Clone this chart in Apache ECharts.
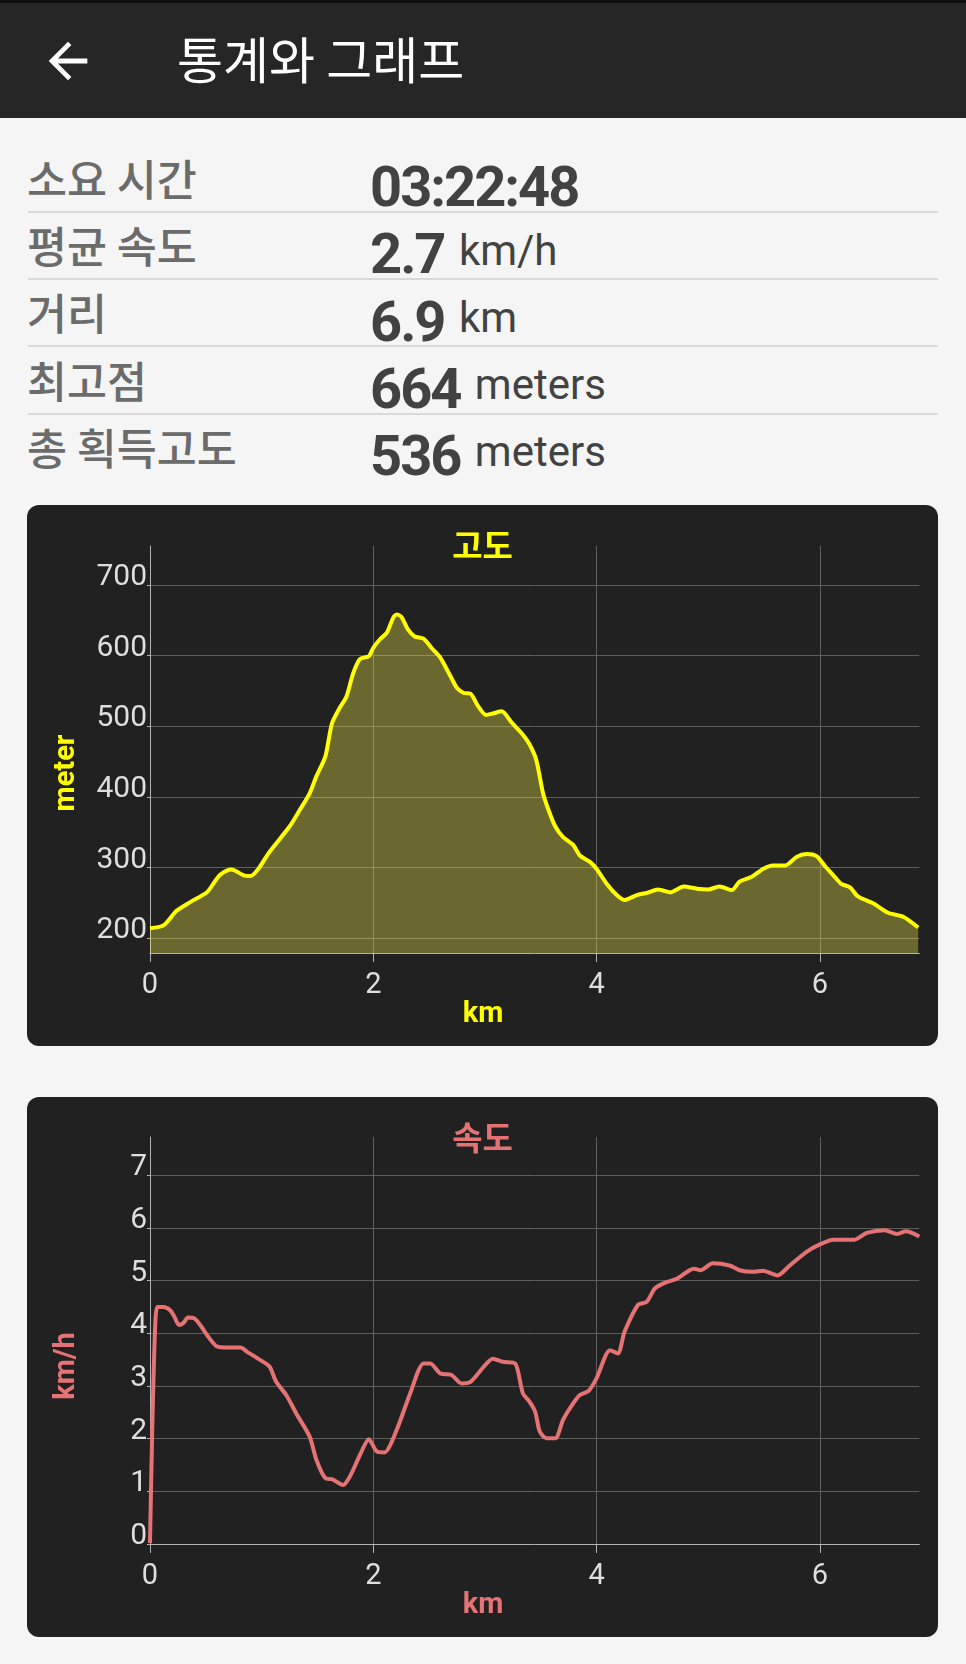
<!DOCTYPE html>
<html><head><meta charset="utf-8">
<script src="https://cdn.jsdelivr.net/npm/echarts@6.0.0/dist/echarts.min.js"></script>
<style>
html,body{margin:0;padding:0;background:#f5f5f5;width:966px;height:1664px;overflow:hidden;}
body{position:relative;}
#topstrip{position:absolute;left:0;top:0;width:966px;height:3px;background:#0e0e0e;}
#bar{position:absolute;left:0;top:3px;width:966px;height:115px;background:#262626;}
#arrow{position:absolute;left:39px;top:32px;width:58px;height:58px;}
#title{position:absolute;left:177px;top:32px;font:400 50px 'Noto Sans CJK KR',sans-serif;line-height:1;color:#fff;white-space:nowrap;}
.lab{position:absolute;left:27px;font:500 43.5px 'Noto Sans CJK KR',sans-serif;line-height:1;color:#6b6b6b;white-space:nowrap;}
.val{position:absolute;left:370px;line-height:1;color:#424242;white-space:nowrap;font-family:Roboto,sans-serif;font-size:42px;}
.val b{font-weight:700;font-size:56px;letter-spacing:-2px;}
.val span{font-weight:400;font-size:42px;margin-left:4px;position:relative;top:-8.5px;}
.sep{position:absolute;left:28px;width:910px;height:2px;background:#d9d9d9;}
.card{position:absolute;left:27px;width:911px;background:#212121;border-radius:12px;overflow:hidden;}
.chart{position:absolute;left:0;top:0;width:911px;}
</style></head><body>
<div id="topstrip"></div>
<div id="bar"></div>
<svg id="arrow" viewBox="0 0 24 24"><path fill="#ffffff" d="M20 11H7.83l5.59-5.59L12 4l-8 8 8 8 1.41-1.41L7.83 13H20v-2z"/></svg>
<div id="title">통계와 그래프</div>
<div id="stats"></div>
<div class="card" style="top:505px;height:541px;"><div id="c1" class="chart" style="height:541px;"></div></div>
<div class="card" style="top:1097px;height:540px;"><div id="c2" class="chart" style="height:540px;"></div></div>
<script>
// ---- stats table ----
const statLabels = ['소요 시간', '평균 속도', '거리', '최고점', '총 획득고도'];
const statValues = ['03:22:48', '2.7', '6.9', '664', '536'];
const statUnits  = ['', 'km/h', 'km', 'meters', 'meters'];

// ---- elevation profile (km, meter) ----
const elevKm = [0, 0.12, 0.24, 0.36, 0.51, 0.58, 0.63, 0.73, 0.84, 0.90, 0.97, 1.07, 1.25, 1.34, 1.43, 1.49, 1.57, 1.63, 1.70, 1.76, 1.82, 1.88, 1.96, 2.00, 2.06, 2.12, 2.18, 2.21, 2.25, 2.31, 2.37, 2.45, 2.52, 2.60, 2.69, 2.75, 2.81, 2.87, 2.94, 3.01, 3.07, 3.15, 3.24, 3.34, 3.40, 3.46, 3.52, 3.57, 3.63, 3.70, 3.79, 3.85, 3.94, 4.00, 4.09, 4.18, 4.25, 4.36, 4.45, 4.55, 4.66, 4.78, 4.90, 5.00, 5.10, 5.21, 5.28, 5.39, 5.49, 5.58, 5.69, 5.79, 5.88, 5.97, 6.05, 6.12, 6.19, 6.27, 6.34, 6.48, 6.61, 6.75, 6.88];
const elevM  = [214, 218, 239, 251, 265, 280, 290, 297, 289, 288, 298, 322, 358, 381, 405, 429, 457, 504, 526, 542, 575, 595, 599, 611, 623, 632, 654, 658, 655, 637, 627, 624, 611, 597, 571, 554, 547, 546, 528, 516, 518, 521, 505, 488, 474, 452, 405, 381, 358, 343, 332, 317, 308, 298, 277, 261, 254, 261, 264, 269, 265, 273, 270, 269, 273, 268, 280, 287, 298, 303, 303, 315, 319, 316, 301, 289, 277, 272, 259, 249, 236, 230, 215];

// ---- speed profile (km, km/h) ----
const speedKm  = [0, 0.02, 0.045, 0.066, 0.12, 0.18, 0.22, 0.26, 0.30, 0.34, 0.40, 0.46, 0.52, 0.60, 0.69, 0.81, 0.87, 0.96, 1.07, 1.13, 1.22, 1.31, 1.43, 1.49, 1.57, 1.63, 1.73, 1.79, 1.88, 1.96, 2.03, 2.10, 2.21, 2.33, 2.45, 2.51, 2.60, 2.70, 2.79, 2.87, 2.99, 3.07, 3.16, 3.27, 3.34, 3.40, 3.45, 3.49, 3.55, 3.63, 3.70, 3.79, 3.85, 3.93, 4.00, 4.12, 4.19, 4.25, 4.37, 4.45, 4.52, 4.60, 4.72, 4.87, 4.93, 5.04, 5.19, 5.28, 5.40, 5.49, 5.62, 5.73, 5.88, 6.00, 6.12, 6.31, 6.42, 6.58, 6.69, 6.77, 6.89];
const speedKmh = [0.02, 2.17, 4.06, 4.50, 4.50, 4.44, 4.31, 4.16, 4.20, 4.30, 4.28, 4.13, 3.94, 3.75, 3.73, 3.73, 3.65, 3.53, 3.37, 3.08, 2.83, 2.48, 2.04, 1.60, 1.25, 1.23, 1.12, 1.28, 1.69, 1.99, 1.76, 1.74, 2.17, 2.86, 3.43, 3.43, 3.24, 3.21, 3.05, 3.08, 3.37, 3.52, 3.46, 3.43, 2.86, 2.70, 2.51, 2.14, 2.01, 2.01, 2.36, 2.67, 2.83, 2.91, 3.15, 3.68, 3.62, 4.03, 4.54, 4.60, 4.85, 4.95, 5.04, 5.23, 5.20, 5.33, 5.29, 5.20, 5.17, 5.19, 5.10, 5.29, 5.55, 5.69, 5.78, 5.78, 5.91, 5.96, 5.89, 5.94, 5.84];

// axis ranges
const xRange = [0, 6.89];
const elevRange = [179, 755];
const speedRange = [0, 7.73];

// build stats
(function(){
  const host = document.getElementById('stats');
  let html = '';
  for (let i = 0; i < statLabels.length; i++) {
    const rowTop = 156 + 67.2 * i;
    html += '<div class="lab" style="top:' + rowTop + 'px">' + statLabels[i] + '</div>';
    const base = 206.2 + 67.2 * i;
    html += '<div class="val" style="top:' + (base - 47.1) + 'px"><b>' + statValues[i] + '</b>' +
            (statUnits[i] ? ' <span>' + statUnits[i] + '</span>' : '') + '</div>';
    if (i < statLabels.length - 1) {
      html += '<div class="sep" style="top:' + (211 + 67.2 * i) + 'px"></div>';
    }
  }
  host.innerHTML = html;
})();

function zip(a, b) { return a.map((v, i) => [v, b[i]]); }

function makeOption(cfg) {
  const gridCol = '#5e5e5e';
  const axisCol = '#b4b4b4';
  const lblCol = '#dedede';
  const y = {
    type: 'value',
    min: cfg.yRange[0], max: cfg.yRange[1],
    name: cfg.yName, nameLocation: 'middle', nameRotate: 90, nameGap: 69,
    nameTextStyle: { color: cfg.color, fontSize: 29, fontWeight: 'bold', fontFamily: 'Roboto, sans-serif', padding: [0, cfg.yNamePad, 0, 0] },
    axisLine: { show: true, lineStyle: { color: axisCol, width: 1 } },
    axisTick: { show: true, length: 3, lineStyle: { color: axisCol } },
    axisLabel: { color: lblCol, fontSize: 30, fontFamily: 'Roboto, sans-serif', margin: 3, verticalAlign: 'bottom', lineHeight: 15, showMinLabel: cfg.showMinLabel, showMaxLabel: false },
    splitLine: { show: true, showMinLine: false, showMaxLine: false, lineStyle: { color: gridCol, width: 1 } }
  };
  Object.assign(y, cfg.yTicks);
  return {
    backgroundColor: 'transparent',
    animation: false,
    title: {
      text: cfg.title, left: 'center', top: 24, padding: 0,
      textStyle: { color: cfg.color, fontSize: 33, fontWeight: 'bold', fontFamily: "'Noto Sans CJK KR', sans-serif", lineHeight: 33 }
    },
    grid: { left: 123, top: cfg.gridTop, width: 769.3, height: 407, containLabel: false },
    xAxis: {
      type: 'value', min: xRange[0], max: xRange[1], interval: 2,
      name: 'km', nameLocation: 'middle', nameGap: 47, nameMoveOverlap: false,
      nameTextStyle: { color: cfg.color, fontSize: 29, fontWeight: 'bold', fontFamily: 'Roboto, sans-serif', padding: [0, 103, 0, 0] },
      axisLine: { show: true, onZero: false, lineStyle: { color: axisCol, width: 1 } },
      axisTick: { show: true, length: 9, lineStyle: { color: axisCol } },
      axisLabel: { color: lblCol, fontSize: 29, fontFamily: 'Roboto, sans-serif', margin: 18, showMaxLabel: false },
      splitLine: { show: true, showMinLine: false, showMaxLine: false, lineStyle: { color: gridCol, width: 1 } }
    },
    yAxis: y,
    series: [{
      type: 'line', data: zip(cfg.xs, cfg.ys), showSymbol: false, smooth: 0.25,
      lineStyle: { color: cfg.color, width: 4 },
      itemStyle: { color: cfg.color },
      areaStyle: cfg.area ? { color: cfg.area, opacity: 1, origin: 'start' } : undefined
    }]
  };
}

const c1 = echarts.init(document.getElementById('c1'), null, { renderer: 'canvas' });
c1.setOption(makeOption({
  title: '고도', color: '#ffff00', yName: 'meter', yNamePad: 47,
  yRange: elevRange, yTicks: { minInterval: 100, maxInterval: 100, splitNumber: 6 },
  showMinLabel: false, gridTop: 41,
  xs: elevKm, ys: elevM, area: 'rgba(255,245,76,0.33)'
}));

const c2 = echarts.init(document.getElementById('c2'), null, { renderer: 'canvas' });
c2.setOption(makeOption({
  title: '속도', color: '#e57373', yName: 'km/h', yNamePad: 51,
  yRange: speedRange, yTicks: { interval: 1 },
  showMinLabel: true, gridTop: 40,
  xs: speedKm, ys: speedKmh, area: null
}));
</script>
</body></html>
